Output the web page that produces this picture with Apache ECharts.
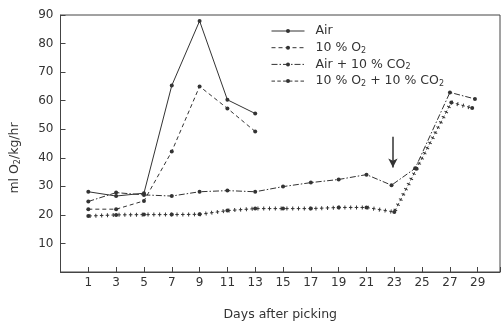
<!DOCTYPE html>
<html><head><meta charset="utf-8">
<script src="https://cdn.jsdelivr.net/npm/echarts@6/dist/echarts.min.js"></script>
<style>html,body{margin:0;padding:0;background:#fff}#c{width:503px;height:326px}</style>
</head><body><div id="c"></div>
<script>
// ---- data ----
const xTicks = [1,3,5,7,9,11,13,15,17,19,21,23,25,27,29];
const yTicks = [10,20,30,40,50,60,70,80,90];
const seriesNames = ['Air', '10 % O2', 'Air + 10 % CO2', '10 % O2 + 10 % CO2'];
const airDays = [1,3,5,7,9,11,13];
const airValues = [28.1,26.6,27.6,65.3,87.9,60.3,55.5];
const o2Days = [1,3,5,7,9,11,13];
const o2Values = [22.0,22.0,24.9,42.2,65.0,57.3,49.2];
const airCo2Days = [1,3,5,7,9,11,13,15,17,19,21,22.8,24.5,27,28.8];
const airCo2Values = [24.7,27.8,27.0,26.6,28.1,28.5,28.1,29.9,31.3,32.4,34.1,30.4,36.3,62.9,60.6];
const o2Co2Days = [1,3,5,7,9,11,13,15,17,19,21,23,24.6,27.1,28.6];
const o2Co2Values = [19.6,20.0,20.1,20.1,20.2,21.5,22.2,22.2,22.2,22.6,22.6,21.0,36.2,59.4,57.4];
const arrowDay = 22.9, arrowFrom = 47.4, arrowTo = 36.6;

const pair = (xs, ys) => xs.map((x, i) => [x, ys[i]]);
const ink = '#333';
const font = '"DejaVu Sans", Verdana, sans-serif';
const rich = { sub: { fontSize: 8, lineHeight: 8, padding: [6, 0, 0, 0], color: ink, fontFamily: font } };
const subFmt = s => s.replace(/O2/g, 'O{sub|2}');

const chart = echarts.init(document.getElementById('c'), null, { renderer: 'canvas' });
const base = { type: 'line', symbol: 'circle', symbolSize: 4, itemStyle: { color: ink }, animation: false };
chart.setOption({
  backgroundColor: '#fff',
  textStyle: { fontFamily: font, color: ink },
  grid: { left: 58, right: 2, top: 15, bottom: 53, show: true, borderColor: '#444', borderWidth: 1 },
  legend: {
    data: seriesNames, orient: 'vertical', left: 266, top: 19,
    itemWidth: 33, itemHeight: 5, itemGap: 2.7,
    lineStyle: { width: 1 },
    formatter: subFmt,
    textStyle: { fontSize: 12.5, lineHeight: 14, color: ink, fontFamily: font, rich: rich, padding: [0, 0, 0, 6] }
  },
  xAxis: {
    type: 'value', min: -1, max: 30.6, interval: 2,
    name: 'Days after picking', nameLocation: 'middle', nameGap: 36,
    nameTextStyle: { fontSize: 12.5, color: ink, fontFamily: font },
    axisLine: { onZero: false, lineStyle: { color: '#444' } },
    axisTick: { inside: true, length: 5, lineStyle: { color: '#444' } },
    axisLabel: { fontSize: 12, color: ink, margin: 5, fontFamily: font,
      formatter: v => (xTicks.indexOf(Math.round(v * 1000) / 1000) >= 0 ? String(v) : '') },
    splitLine: { show: false }
  },
  yAxis: {
    type: 'value', min: 0, max: 90, interval: 10,
    name: 'ml O{sub|2}/kg/hr', nameLocation: 'middle', nameGap: 39,
    nameTextStyle: { fontSize: 12.5, color: ink, fontFamily: font, rich: rich, padding: [0, 29, 0, 0] },
    axisLine: { onZero: false, lineStyle: { color: '#444' } },
    axisTick: { inside: true, length: 5, lineStyle: { color: '#444' } },
    axisLabel: { fontSize: 12, color: ink, margin: 7, fontFamily: font,
      formatter: v => (yTicks.indexOf(v) >= 0 ? String(v) : '') },
    splitLine: { show: false }
  },
  series: [
    Object.assign({}, base, { name: seriesNames[0], data: pair(airDays, airValues),
      lineStyle: { color: ink, width: 1 } }),
    Object.assign({}, base, { name: seriesNames[1], data: pair(o2Days, o2Values),
      lineStyle: { color: ink, width: 1, type: [4, 3] } }),
    Object.assign({}, base, { name: seriesNames[2], data: pair(airCo2Days, airCo2Values),
      lineStyle: { color: ink, width: 1, type: [6, 2, 1.5, 2] },
      markLine: { silent: true, symbol: ['none', 'arrow'], symbolSize: [7, 9], label: { show: false },
        lineStyle: { color: ink, width: 1.5, type: 'solid' },
        data: [[{ coord: [arrowDay, arrowFrom] }, { coord: [arrowDay, arrowTo] }]] } }),
    Object.assign({}, base, { name: seriesNames[3], data: pair(o2Co2Days, o2Co2Values),
      lineStyle: { color: ink, width: 1, type: [3.5, 2.3] } }),
    Object.assign({}, base, { name: 'plus-bars', data: pair(o2Co2Days, o2Co2Values), symbol: 'none',
      lineStyle: { color: ink, width: 4, type: [1, 4.8], dashOffset: -1.25 } })
  ]
});
</script></body></html>
